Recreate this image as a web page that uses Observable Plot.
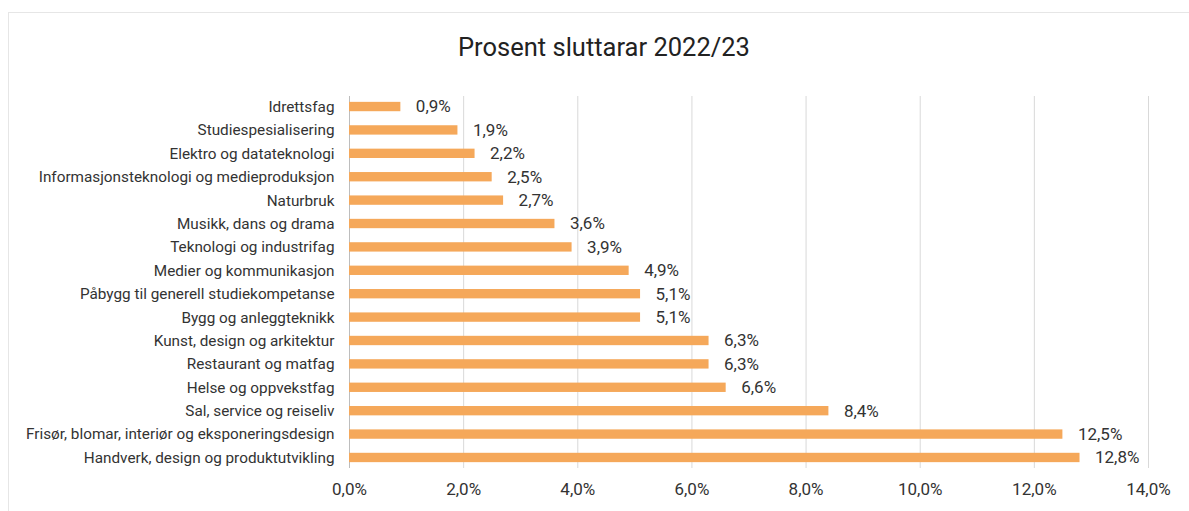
<!DOCTYPE html>
<html>
<head>
<meta charset="utf-8">
<script src="https://cdn.jsdelivr.net/npm/d3@7"></script>
<script src="https://cdn.jsdelivr.net/npm/@observablehq/plot@0.6"></script>
<style>
  html, body { margin: 0; padding: 0; background: #fff; overflow: hidden; }
  body { width: 1189px; height: 511px; position: relative; font-family: Roboto, "Noto Sans", sans-serif; }
  #frame { position: absolute; left: 8px; top: 12px; width: 1400px; height: 700px; border: 1px solid #e6e6e6; box-sizing: border-box; }
  #title { position: absolute; left: 0; top: 29px; width: 1208px; text-align: center; font-size: 25.5px; color: #222; line-height: 36px; }
  #chart { position: absolute; left: 0; top: 70px; }
</style>
</head>
<body>
<div id="frame"></div>
<div id="title">Prosent sluttarar 2022/23</div>
<div id="chart"></div>
<script>
const categories = [
  "Idrettsfag",
  "Studiespesialisering",
  "Elektro og datateknologi",
  "Informasjonsteknologi og medieproduksjon",
  "Naturbruk",
  "Musikk, dans og drama",
  "Teknologi og industrifag",
  "Medier og kommunikasjon",
  "Påbygg til generell studiekompetanse",
  "Bygg og anleggteknikk",
  "Kunst, design og arkitektur",
  "Restaurant og matfag",
  "Helse og oppvekstfag",
  "Sal, service og reiseliv",
  "Frisør, blomar, interiør og eksponeringsdesign",
  "Handverk, design og produktutvikling"
];
const values = [0.9, 1.9, 2.2, 2.5, 2.7, 3.6, 3.9, 4.9, 5.1, 5.1, 6.3, 6.3, 6.6, 8.4, 12.5, 12.8];
const xTicks = [0, 2, 4, 6, 8, 10, 12, 14];

const data = categories.map((c, i) => ({category: c, value: values[i]}));
const fmt = v => v.toFixed(1).replace(".", ",") + "%";

const chart = Plot.plot({
  width: 1189,
  height: 441,
  marginLeft: 349,
  marginRight: 41,
  marginTop: 26,
  marginBottom: 43,
  style: {fontFamily: "Roboto, 'Noto Sans', sans-serif", fontSize: "15px", color: "#333", background: "transparent"},
  x: {domain: [0, 14], ticks: xTicks, tickFormat: fmt, grid: false, label: null},
  y: {domain: categories, paddingInner: 0.6, paddingOuter: 0.25, round: false, label: null},
  marks: [
    Plot.ruleX(xTicks.filter(d => d > 0), {stroke: "#d9d9d9", strokeWidth: 1}),
    Plot.ruleX([0], {stroke: "#bdbdbd", strokeWidth: 1}),
    Plot.barX(data, {y: "category", x: "value", fill: "#f5a85a"}),
    Plot.text(data, {y: "category", x: "value", text: d => fmt(d.value), textAnchor: "start", dx: 15, fontSize: 17, fill: "#333"}),
    Plot.axisY({tickSize: 0, tickPadding: 15, fontSize: 15.3, label: null}),
    Plot.axisX({ticks: xTicks, tickFormat: fmt, tickSize: 0, tickPadding: 14, fontSize: 17, label: null})
  ]
});
document.getElementById("chart").appendChild(chart);
</script>
</body>
</html>
